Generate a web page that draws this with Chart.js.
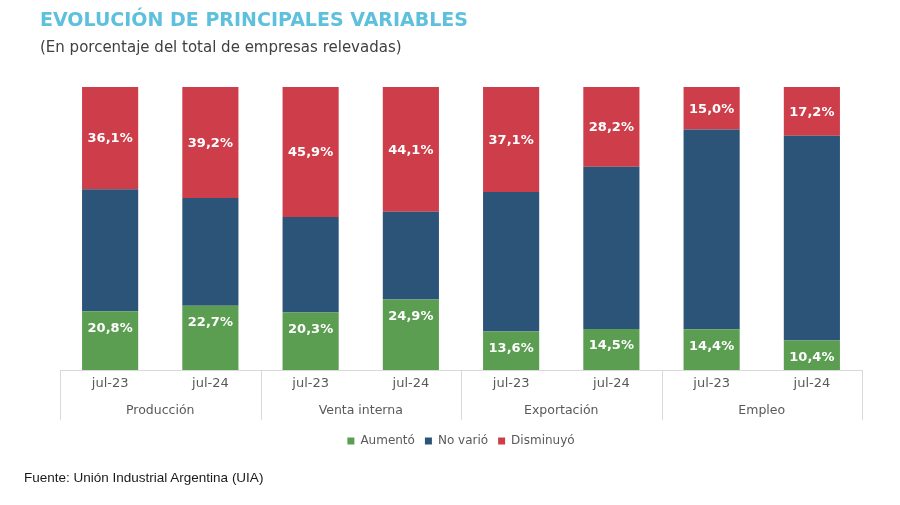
<!DOCTYPE html>
<html>
<head>
<meta charset="utf-8">
<script src="https://cdn.jsdelivr.net/npm/chart.js@4/dist/chart.umd.min.js"></script>
<style>
  html, body { margin: 0; padding: 0; background: #fff; }
  #wrap { position: relative; width: 900px; height: 505px; overflow: hidden; }
  #c { position: absolute; left: 0; top: 0; }
  .title { position: absolute; left: 40px; top: 8px; font-family: "DejaVu Sans", sans-serif; font-weight: bold; font-size: 19px; color: #5DC0DC; white-space: nowrap; }
  .sub { position: absolute; left: 40px; top: 38px; font-family: "DejaVu Sans", sans-serif; font-size: 15px; color: #404040; white-space: nowrap; }
  .src { position: absolute; left: 24px; top: 470px; font-family: "Liberation Sans", Arial, sans-serif; font-size: 13.5px; color: #1a1a1a; white-space: nowrap; }
</style>
</head>
<body>
<div id="wrap">
  <canvas id="c" width="900" height="505"></canvas>
  <div class="title">EVOLUCIÓN DE PRINCIPALES VARIABLES</div>
  <div class="sub">(En porcentaje del total de empresas relevadas)</div>
  <div class="src">Fuente: Unión Industrial Argentina (UIA)</div>
</div>
<script>
// ---- Data ----
const periods = ["jul-23", "jul-24", "jul-23", "jul-24", "jul-23", "jul-24", "jul-23", "jul-24"];
const groups = ["Producción", "Venta interna", "Exportación", "Empleo"];
const aumento = [20.8, 22.7, 20.3, 24.9, 13.6, 14.5, 14.4, 10.4];
const noVario = [43.1, 38.1, 33.8, 31.0, 49.3, 57.3, 70.6, 72.4];
const disminuyo = [36.1, 39.2, 45.9, 44.1, 37.1, 28.2, 15.0, 17.2];
const seriesNames = ["Aumentó", "No varió", "Disminuyó"];

const GREEN = "#5B9E52", BLUE = "#2C5378", RED = "#CE3E4A";
const AXIS_GRAY = "#D9D9D9", TEXT_GRAY = "#595959";

const fmt = v => v.toFixed(1).replace(".", ",") + "%";

const labelsPlugin = {
  id: "barLabels",
  afterDatasetsDraw(chart) {
    const ctx = chart.ctx;
    ctx.save();
    ctx.fillStyle = "#ffffff";
    ctx.font = "bold 13px 'DejaVu Sans', sans-serif";
    ctx.textAlign = "center";
    ctx.textBaseline = "middle";
    [0, 2].forEach(di => {
      const meta = chart.getDatasetMeta(di);
      const data = chart.data.datasets[di].data;
      meta.data.forEach((bar, i) => {
        const top = Math.min(bar.y, bar.base);
        const bot = Math.max(bar.y, bar.base);
        const y = di === 0 ? top + 17 : (top + bot) / 2 + 1;
        ctx.fillText(fmt(data[i]), bar.x, y);
      });
    });
    ctx.restore();
  }
};

const axisPlugin = {
  id: "groupAxis",
  afterDraw(chart) {
    const ctx = chart.ctx;
    const xs = chart.scales.x;
    const area = chart.chartArea;
    const n = periods.length;
    const step = n > 1 ? xs.getPixelForTick(1) - xs.getPixelForTick(0) : area.right - area.left;
    ctx.save();
    ctx.strokeStyle = AXIS_GRAY;
    ctx.lineWidth = 1;
    for (let g = 0; g <= groups.length; g++) {
      let x;
      if (g < groups.length) x = xs.getPixelForTick(g * 2) - step / 2;
      else x = xs.getPixelForTick(n - 1) + step / 2;
      x = Math.round(x) + 0.5;
      ctx.beginPath();
      ctx.moveTo(x, area.bottom);
      ctx.lineTo(x, area.bottom + 50);
      ctx.stroke();
    }
    ctx.fillStyle = TEXT_GRAY;
    ctx.textAlign = "center";
    ctx.textBaseline = "middle";
    ctx.font = "13px 'DejaVu Sans', sans-serif";
    for (let i = 0; i < n; i++) {
      ctx.fillText(periods[i], xs.getPixelForTick(i), area.bottom + 14);
    }
    ctx.font = "12.5px 'DejaVu Sans', sans-serif";
    for (let g = 0; g < groups.length; g++) {
      const x = (xs.getPixelForTick(g * 2) + xs.getPixelForTick(g * 2 + 1)) / 2;
      ctx.fillText(groups[g], x, area.bottom + 41);
    }
    ctx.restore();
  }
};

new Chart(document.getElementById("c"), {
  type: "bar",
  data: {
    labels: periods.map((p, i) => groups[Math.floor(i / 2)] + " " + p),
    datasets: [
      { label: seriesNames[0], data: aumento, backgroundColor: GREEN },
      { label: seriesNames[1], data: noVario, backgroundColor: BLUE },
      { label: seriesNames[2], data: disminuyo, backgroundColor: RED }
    ]
  },
  options: {
    responsive: false,
    animation: false,
    devicePixelRatio: 1,
    layout: { padding: { top: 87, left: 60, right: 38, bottom: 48 } },
    datasets: { bar: { categoryPercentage: 1.0, barPercentage: 0.56, borderWidth: 0 } },
    scales: {
      x: {
        stacked: true,
        ticks: { display: false },
        grid: { display: false, drawTicks: false },
        border: { display: true, color: AXIS_GRAY, width: 1 },
        afterFit(scale) { scale.height = 55; }
      },
      y: {
        stacked: true,
        display: false,
        min: 0,
        max: 100
      }
    },
    plugins: {
      title: { display: false },
      tooltip: { enabled: false },
      legend: {
        display: true,
        position: "bottom",
        labels: {
          boxWidth: 7,
          boxHeight: 7,
          padding: 10,
          color: TEXT_GRAY,
          font: { family: "'DejaVu Sans', sans-serif", size: 12 }
        }
      }
    }
  },
  plugins: [labelsPlugin, axisPlugin]
});
</script>
</body>
</html>
